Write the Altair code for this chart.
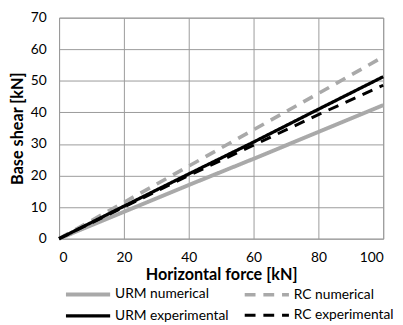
import altair as alt
import pandas as pd

force = [0, 20, 40, 60, 80, 100]
urm_num = [0, 8.5, 17.0, 25.3, 33.8, 42.3]
urm_exp = [0, 10.3, 20.5, 30.6, 41.0, 51.3]
rc_num = [0, 11.5, 23.0, 34.5, 46.0, 57.6]
rc_exp = [0, 10.0, 20.0, 29.6, 39.3, 48.6]

series = ["URM numerical", "RC numerical", "URM experimental", "RC experimental"]
draw_order = ["URM numerical", "RC numerical", "RC experimental", "URM experimental"]
values = {"URM numerical": urm_num, "RC numerical": rc_num,
          "URM experimental": urm_exp, "RC experimental": rc_exp}

rows = []
for s in draw_order:
    for f, v in zip(force, values[s]):
        rows.append({"force": f, "shear": v, "series": s})
df = pd.DataFrame(rows)

FONT = "Lato"
GRAY = "#a9a9a9"

chart = alt.Chart(df).mark_line().encode(
    x=alt.X("force:Q", scale=alt.Scale(domain=[0, 100], nice=False),
            axis=alt.Axis(values=[0, 20, 40, 60, 80, 100], title="Horizontal force [kN]",
                          titleFontWeight="bold", titleFontSize=16.5, labelFontSize=14,
                          titlePadding=3, labelPadding=12)),
    y=alt.Y("shear:Q", scale=alt.Scale(domain=[0, 70], nice=False),
            axis=alt.Axis(values=[0, 10, 20, 30, 40, 50, 60, 70], title="Base shear [kN]",
                          titleFontWeight="bold", titleFontSize=16.5, labelFontSize=14,
                          titlePadding=5, labelPadding=13)),
    color=alt.Color("series:N", sort=series, scale=alt.Scale(domain=series,
                    range=[GRAY, GRAY, "#000000", "#000000"]),
                    legend=alt.Legend(title=None, orient="none", legendX=20, legendY=272,
                                      direction="horizontal", columns=2, columnPadding=8,
                                      rowPadding=4, padding=0,
                                      symbolType="M-3,0H3", symbolSize=225,
                                      symbolStrokeWidth=3.5, symbolFillColor="transparent",
                                      labelFontSize=14, labelOffset=18)),
    strokeDash=alt.StrokeDash("series:N", scale=alt.Scale(domain=series,
                    range=[[1, 0], [11, 8], [1, 0], [11, 8]]), legend=None),
    strokeWidth=alt.StrokeWidth("series:N", scale=alt.Scale(domain=series,
                    range=[4, 3, 3, 3]), legend=None),
).properties(
    width=330, height=225,
    autosize=alt.AutoSizeParams(type="none"),
    padding={"left": 52, "top": 7, "right": 12, "bottom": 85},
).configure(font=FONT).configure_axis(
    grid=True, gridColor="#9a9a9a", gridWidth=1, domain=False, ticks=False,
    labelColor="#000000", titleColor="#000000", labelFont=FONT, titleFont=FONT
).configure_view(stroke="#9a9a9a", strokeWidth=1).configure_legend(labelFont=FONT, labelColor="#000")

chart.save("out.html", embed_options={"renderer": "svg", "actions": False})
